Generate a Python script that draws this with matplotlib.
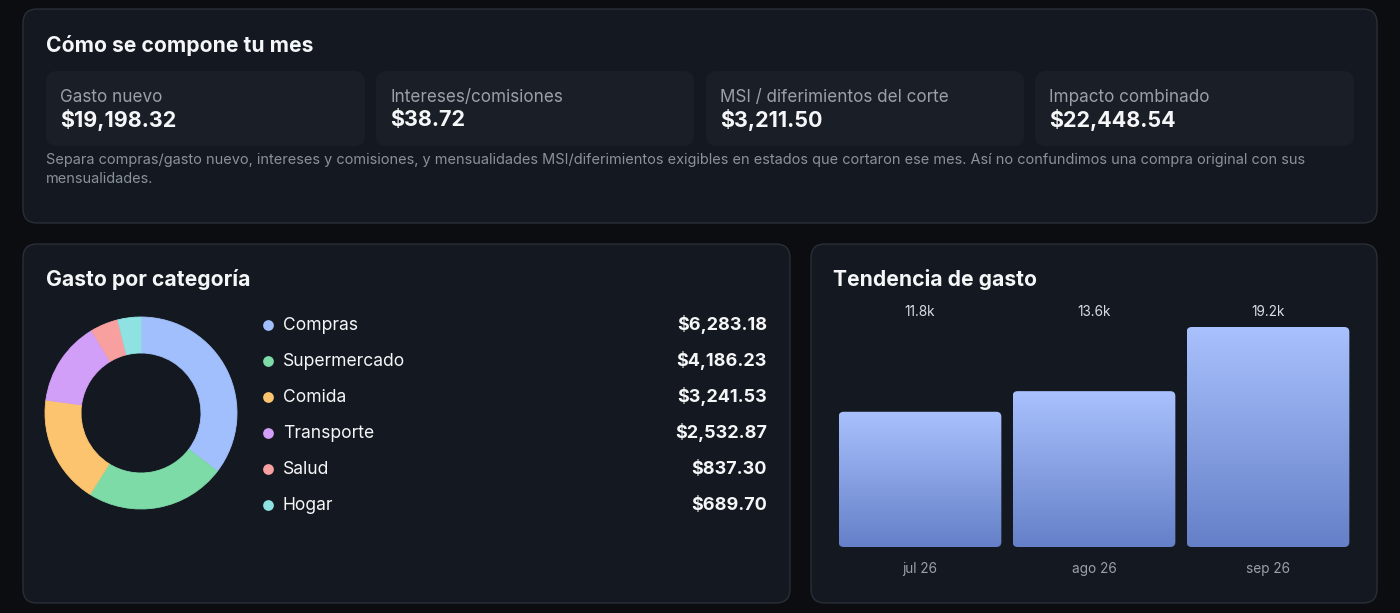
import numpy as np
import matplotlib
matplotlib.use("Agg")
import matplotlib.pyplot as plt
import matplotlib.transforms as mtransforms
from matplotlib.patches import FancyBboxPatch

# ----------------------------------------
# DATA
# ----------------------------------------
kpi_labels = ["Gasto nuevo", "Intereses/comisiones", "MSI / diferimientos del corte", "Impacto combinado"]
kpi_values = [19198.32, 38.72, 3211.50, 22448.54]

note_lines = [
    "Separa compras/gasto nuevo, intereses y comisiones, y mensualidades MSI/diferimientos exigibles en estados que cortaron ese mes. Así no confundimos una compra original con sus",
    "mensualidades.",
]

categories = ["Compras", "Supermercado", "Comida", "Transporte", "Salud", "Hogar"]
cat_values = [6283.18, 4186.23, 3241.53, 2532.87, 837.30, 689.70]
cat_colors = ["#a0bffc", "#7ddba8", "#fcc46e", "#d19ef8", "#f8a0a0", "#8ee2e2"]

months = ["jul 26", "ago 26", "sep 26"]
month_totals = [11800, 13600, 19198.32]

# ----------------------------------------
# STYLE
# ----------------------------------------
W, H = 1400, 613
BG = "#0b0d11"
PANEL = "#141820"
CARD = "#1a1e27"
BORDER = "#2a2e37"
WHITE = "#f5f6f8"
MUTED = "#9aa0aa"
TITLE_FS = 15.2

plt.rcParams["font.family"] = ["Inter", "DejaVu Sans"]

fig = plt.figure(figsize=(W / 100, H / 100), dpi=100, facecolor=BG)

# canvas axes in pixel coordinates (y down)
canvas = fig.add_axes([0, 0, 1, 1])
canvas.set_xlim(0, W)
canvas.set_ylim(H, 0)
canvas.axis("off")


def box(x0, y0, x1, y1, fc, ec="none", r=14, z=1):
    p = FancyBboxPatch((x0 + r, y0 + r), (x1 - x0) - 2 * r, (y1 - y0) - 2 * r,
                       boxstyle=f"round,pad={r}", fc=fc, ec=ec, lw=1, zorder=z)
    canvas.add_patch(p)


def px_axes(x0, y0, x1, y1):
    return fig.add_axes([x0 / W, 1 - y1 / H, (x1 - x0) / W, (y1 - y0) / H])


# ----------------------------------------
# TOP PANEL
# ----------------------------------------
box(23, 9, 1377, 223, PANEL, BORDER, r=14)
canvas.text(46, 45, "Cómo se compone tu mes", color=WHITE, fontsize=TITLE_FS,
            fontweight="bold", va="center", ha="left")

card_x = [(46, 365), (376, 694), (706, 1024), (1035, 1354)]
for (x0, x1), lab, val in zip(card_x, kpi_labels, kpi_values):
    box(x0, 71, x1, 146, CARD, r=11, z=2)
    canvas.text(x0 + 14, 97, lab, color=MUTED, fontsize=12.3, va="center", ha="left", zorder=3)
    canvas.text(x0 + 14, 120, f"${val:,.2f}", color=WHITE, fontsize=15.5,
                fontweight="bold", va="center", ha="left", zorder=3)

for i, line in enumerate(note_lines):
    canvas.text(46, 160 + i * 19, line, color="#8b919b", fontsize=10.45, va="center", ha="left")

# ----------------------------------------
# CATEGORY PANEL
# ----------------------------------------
box(23, 244, 790, 603, PANEL, BORDER, r=14)
canvas.text(46, 279, "Gasto por categoría", color=WHITE, fontsize=TITLE_FS,
            fontweight="bold", va="center", ha="left")

ax_pie = px_axes(45, 317, 237, 509)
wedges, _ = ax_pie.pie(cat_values, colors=cat_colors, startangle=90, counterclock=False,
                       wedgeprops=dict(width=36 / 96, linewidth=0.6))
for wdg, col in zip(wedges, cat_colors):
    wdg.set_edgecolor(col)
ax_pie.set_xlim(-1, 1)
ax_pie.set_ylim(-1, 1)
ax_pie.set_aspect("equal")
ax_pie.axis("off")

for i, (cat, val, col) in enumerate(zip(categories, cat_values, cat_colors)):
    y = 325 + i * 36
    canvas.scatter([268], [y], s=60, color=col, zorder=3, linewidths=0)
    canvas.text(283, y, cat, color=WHITE, fontsize=12.6, va="center", ha="left")
    canvas.text(767, y, f"${val:,.2f}", color=WHITE, fontsize=13,
                fontweight="bold", va="center", ha="right")

# ----------------------------------------
# TREND PANEL
# ----------------------------------------
box(811, 244, 1377, 603, PANEL, BORDER, r=14)
canvas.text(833, 279, "Tendencia de gasto", color=WHITE, fontsize=TITLE_FS,
            fontweight="bold", va="center", ha="left")

bx0, bx1, by0, by1 = 833, 1355, 297, 547
ax_bar = px_axes(bx0, by0, bx1, by1)
ax_bar.set_xlim(-0.5, len(months) - 0.5)
ymax = max(month_totals) * (by1 - by0) / 220
ax_bar.set_ylim(0, ymax)
ax_bar.axis("off")

bars = ax_bar.bar(range(len(months)), month_totals, width=0.935, color="none")

# gradient fill clipped to rounded rectangles
grad = np.linspace(0, 1, 256).reshape(-1, 1)
top_c = np.array(matplotlib.colors.to_rgb("#a9c1fd"))
bot_c = np.array(matplotlib.colors.to_rgb("#6580c8"))
x_per_px = (len(months)) / (bx1 - bx0)
y_per_px = ymax / (by1 - by0)
for rect in bars:
    x, w, h = rect.get_x(), rect.get_width(), rect.get_height()
    img = (bot_c[None, :] * (1 - grad) + top_c[None, :] * grad)[:, None, :]
    im = ax_bar.imshow(img, extent=(x, x + w, 0, h), origin="lower",
                       aspect="auto", zorder=2)
    r = 5 * x_per_px
    clip = FancyBboxPatch((x + r, r * y_per_px / x_per_px), w - 2 * r,
                          h - 2 * r * y_per_px / x_per_px,
                          boxstyle=f"round,pad={r}", mutation_aspect=y_per_px / x_per_px,
                          fc="none", ec="none", transform=ax_bar.transData)
    ax_bar.add_patch(clip)
    im.set_clip_path(clip)
ax_bar.set_xlim(-0.5, len(months) - 0.5)
ax_bar.set_ylim(0, ymax)

trans = mtransforms.blended_transform_factory(ax_bar.transData, ax_bar.transAxes)
for i, (m, v) in enumerate(zip(months, month_totals)):
    ax_bar.text(i, 1 - (312 - by0) / (by1 - by0), f"{v / 1000:.1f}k", transform=trans,
                color="#d8dce3", fontsize=9.8, ha="center", va="center")
    ax_bar.text(i, -(569 - by1) / (by1 - by0), m, transform=trans,
                color=MUTED, fontsize=9.8, ha="center", va="center")

fig.savefig("out.png", dpi=100, facecolor=BG)
